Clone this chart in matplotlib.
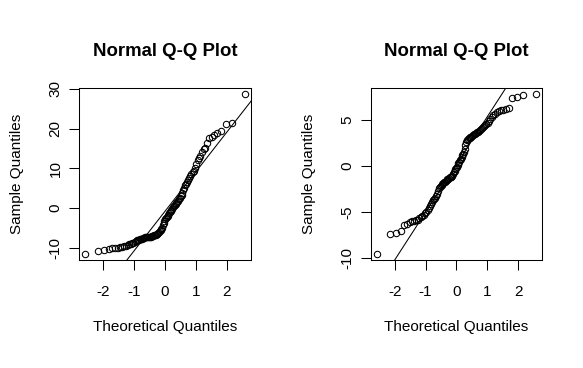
import matplotlib
matplotlib.use("Agg")
import matplotlib.pyplot as plt
import numpy as np
from statistics import NormalDist

plt.rcParams['font.family'] = ['Liberation Sans', 'DejaVu Sans']

# sorted sample values (n = 100 each)
sample_left = [
    -11.4, -10.7, -10.5, -10.3, -10.1, -10.0, -9.9, -9.8, -9.7, -9.6,
    -9.4, -9.2, -9.0, -8.9, -8.8, -8.7, -8.5, -8.3, -8.1, -8.0,
    -7.95, -7.85, -7.75, -7.7, -7.6, -7.5, -7.35, -7.25, -7.2, -7.2,
    -7.15, -7.1, -7.1, -7.05, -7.0, -6.9, -6.8, -6.7, -6.6, -6.5,
    -6.4, -6.2, -6.0, -5.8, -5.5, -5.3, -5.0, -4.3, -3.6, -3.1,
    -2.8, -2.5, -2.2, -1.9, -1.6, -1.3, -1.0, -0.7, -0.4, -0.1,
    0.2, 0.5, 0.8, 1.1, 1.4, 1.6, 1.9, 2.2, 2.6, 3.0,
    3.4, 3.8, 4.6, 5.2, 5.8, 6.2, 6.6, 7.1, 7.6, 8.2,
    8.7, 9.0, 9.4, 10.0, 11.0, 12.0, 12.5, 13.0, 14.2, 14.8,
    15.2, 16.5, 17.6, 18.0, 18.4, 18.8, 19.5, 21.2, 21.3, 28.6,
]
sample_right = [
    -9.55, -7.4, -7.3, -7.1, -6.4, -6.3, -6.1, -6.05, -6.0, -5.9,
    -5.85, -5.7, -5.6, -5.4, -5.3, -5.15, -5.0, -4.8, -4.6, -4.4,
    -4.1, -3.9, -3.75, -3.6, -3.45, -3.3, -3.1, -2.7, -2.45, -2.3,
    -2.2, -2.1, -2.0, -1.9, -1.8, -1.7, -1.6, -1.5, -1.45, -1.4,
    -1.3, -1.25, -1.2, -1.15, -1.1, -0.9, -0.7, -0.5, -0.35, -0.2,
    -0.1, 0.1, 0.3, 0.45, 0.6, 0.8, 1.0, 1.2, 1.3, 1.5,
    1.9, 2.3, 2.6, 2.8, 2.9, 3.0, 3.1, 3.15, 3.2, 3.3,
    3.35, 3.45, 3.5, 3.6, 3.65, 3.75, 3.85, 3.95, 4.05, 4.15,
    4.25, 4.4, 4.5, 4.6, 4.7, 4.85, 5.1, 5.3, 5.5, 5.7,
    5.85, 6.0, 6.1, 6.15, 6.25, 6.3, 7.45, 7.5, 7.7, 7.8,
]
xticks = [-2, -1, 0, 1, 2]
yticks_left = [-10, 0, 10, 20, 30]
yticks_right = [-10, -5, 0, 5]


def qqpanel(ax, sample, yticks):
    # same as R qqnorm + qqline
    y = np.sort(np.array(sample))
    n = len(y)
    nd = NormalDist()
    x = np.array([nd.inv_cdf((i + 0.5) / n) for i in range(n)])
    ax.plot(x, y, 'o', mfc='none', mec='black', ms=4.6, mew=0.75)

    q1, q3 = np.percentile(y, [25, 75])
    z1, z3 = nd.inv_cdf(0.25), nd.inv_cdf(0.75)
    slope = (q3 - q1) / (z3 - z1)
    inter = q1 - slope * z1

    # R style 4% axis extension
    xr = x.max() - x.min()
    yr = y.max() - y.min()
    xlim = (x.min() - 0.04 * xr, x.max() + 0.04 * xr)
    ylim = (y.min() - 0.04 * yr, y.max() + 0.04 * yr)
    lx = np.array([xlim[0] - 1, xlim[1] + 1])
    ax.plot(lx, inter + slope * lx, color='black', lw=0.75)
    ax.set_xlim(xlim)
    ax.set_ylim(ylim)

    ax.set_xticks(xticks)
    ax.set_xticklabels([str(t) for t in xticks])
    ax.set_yticks(yticks)
    ax.set_yticklabels([str(t) for t in yticks], rotation=90, va='center')
    ax.tick_params(length=7, width=0.75, labelsize=11)
    ax.tick_params(axis='x', pad=11)
    ax.tick_params(axis='y', pad=4.5)
    for s in ax.spines.values():
        s.set_linewidth(0.75)

    ax.text(0.5, 1.215, 'Normal Q-Q Plot', transform=ax.transAxes,
            ha='center', va='center', fontsize=13.4, fontweight='bold')
    ax.set_xlabel('Theoretical Quantiles', fontsize=11, labelpad=15)
    ax.set_ylabel('Sample Quantiles', fontsize=11, labelpad=18)


fig = plt.figure(figsize=(5.83, 3.68), dpi=100)
ax1 = fig.add_axes([0.135, 0.2935, 0.2955, 0.4674])
ax2 = fig.add_axes([0.6358, 0.2935, 0.2943, 0.4674])
qqpanel(ax1, sample_left, yticks_left)
qqpanel(ax2, sample_right, yticks_right)

fig.savefig('out.png', dpi=100)
